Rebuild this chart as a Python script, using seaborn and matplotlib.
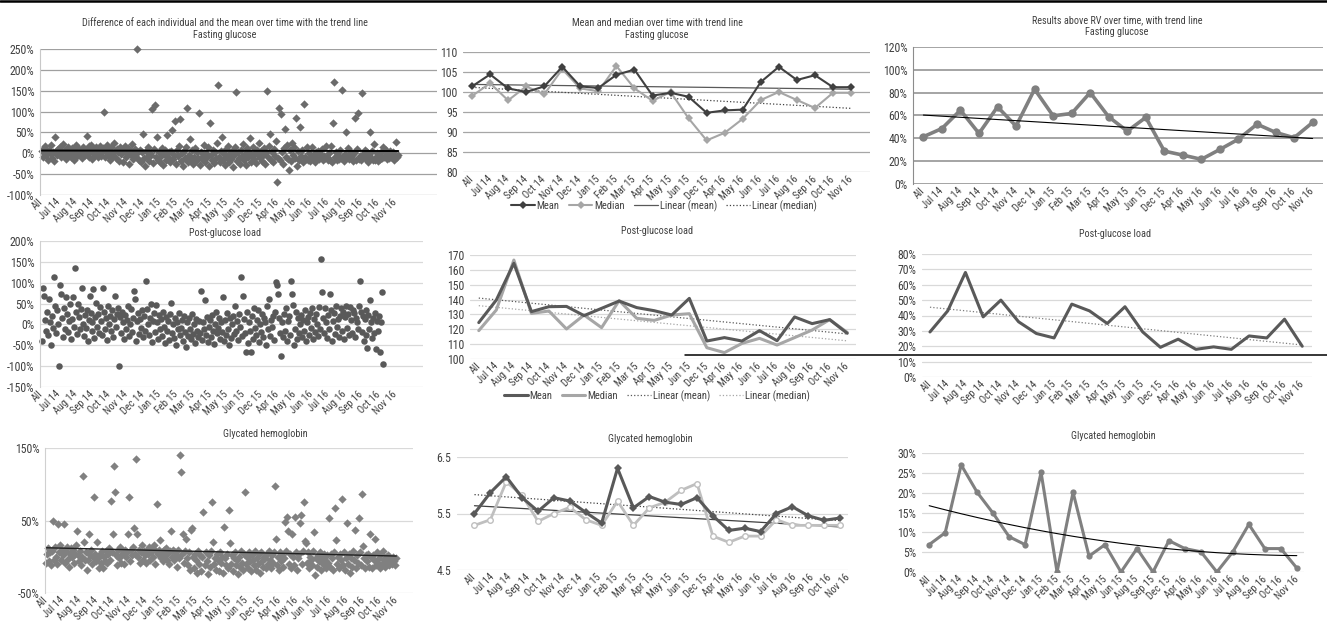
import numpy as np
import matplotlib
matplotlib.use("Agg")
import matplotlib.pyplot as plt
import seaborn as sns
from matplotlib.lines import Line2D
from matplotlib.ticker import FuncFormatter

sns.set_theme(style="white")
plt.rcParams['font.family'] = ['Roboto Condensed', 'Liberation Sans Narrow', 'Roboto', 'DejaVu Sans']

# ---------------- data ----------------
labels22 = ["All", "Jul 14", "Aug 14", "Sep 14", "Oct 14", "Nov 14", "Dec 14", "Jan 15",
            "Feb 15", "Mar 15", "Apr 15", "May 15", "Jun 15", "Dec 15", "Apr 16", "May 16",
            "Jun 16", "Jul 16", "Aug 16", "Sep 16", "Oct 16", "Nov 16"]
labels24 = ["All", "Jul 14", "Aug 14", "Sep 14", "Oct 14", "Nov 14", "Dec 14", "Jan 15",
            "Feb 15", "Mar 15", "Apr 15", "May 15", "Jun 15", "Aug 15", "Sep 15", "Dec 15",
            "Apr 16", "May 16", "Jun 16", "Jul 16", "Aug 16", "Sep 16", "Oct 16", "Nov 16"]

# Fasting glucose: difference of each individual from the mean (%)
fg_diff = [
    5, -8, 12, 18, -3, 2, -15, 8, 0, 20, -12, 4, -18, 38, 6, -5, 10, -2, 15, -10,
    3, 22, -6, 9, -14, 1, 16, -4, 7, -9, 12, 0, -16, 5, 19, -7, 2, 11, -3, 8,
    -11, 14, 4, -5, 9, 42, -2, 17, -8, 6, 21, -13, 3, 10, -4, 15, 0, -9, 7, 18,
    -6, 2, 12, 98, -10, 5, 20, -3, 8, -15, 14, 1, -7, 24, 6, -12, 10, 3, -18, 16,
    -2, 9, -20, 5, 18, -8, 0, 13, -25, 7, -5, 22, -14, 4, 11, -9, 250, 2, -17, 8,
    -22, 3, 46, -12, -30, 6, -8, 15, -18, 0, -5, 105, -24, 10, 115, -10, 38, -15, 4, -20,
    -6, 12, -28, -2, 8, -16, 44, -9, 2, -22, 5, 56, -13, -4, 78, -25, 9, -7, 18, 83,
    -18, 0, -30, 6, -11, 14, 108, -20, -3, 34, -15, 7, -26, -8, 12, -19, 2, -12, 97, -28,
    4, -14, -6, 20, -22, 1, -10, 16, -30, 72, -5, -17, 8, -24, 3, -12, 25, 163, -8, -20,
    5, 40, -15, -2, -27, 10, -9, 18, -21, 0, -13, 6, -32, -4, 14, 147, -18, 2, -11, -25,
    8, -6, 22, -16, -1, -28, 12, -10, 3, 36, -20, -7, 15, -14, 0, -24, 9, -3, 24, -12,
    6, -18, -5, 13, -26, 2, 150, -9, 18, 46, -15, 4, -22, 10, -6, 30, -70, -11, 108, -17,
    95, 3, -25, 12, 58, -8, 20, -14, -40, 7, -19, 25, -4, 14, -12, 84, -30, 5, -16, 62,
    -7, 8, -22, 117, -8, -13, 15, -15, 0, -18, -10, 14, -10, -4, -21, 2, -13, 6, -14, -2,
    -8, 10, -17, -6, -11, 17, -10, -15, 0, -16, 18, -20, 72, 170, -9, 4, -16, -5, -14, 8,
    -12, 152, -8, -18, -1, 50, -7, 12, -14, -7, 5, -10, -4, -19, 1, 84, -15, 10, 97, -13,
    -6, -16, 145, -2, -9, 8, -13, 2, -20, -4, 52, -11, 5, -16, 22, -15, -8, 0, -18, -3,
    -14, 4, -12, 15, -8, -7, 8, -14, -1, -12, 6, -10, -5, 2, -16, -10, 26, -8, -4,
]

# Fasting glucose mean / median
fg_mean = [101.4, 104.4, 100.9, 100.0, 101.4, 106.3, 101.4, 101.0, 104.3, 105.6, 99.1,
           99.8, 98.8, 94.8, 95.4, 95.6, 102.5, 106.3, 103.0, 104.2, 101.2, 101.2]
fg_median = [99.0, 102.2, 97.9, 101.4, 99.4, 105.7, 100.9, 100.2, 106.5, 100.9, 97.8,
             100.0, 93.4, 87.9, 89.8, 93.3, 98.0, 100.0, 98.0, 96.0, 99.8, 99.8]

# Fasting glucose results above RV (%)
fg_above = [41.4, 48.6, 64.7, 44.3, 67.6, 50.7, 83.0, 59.7, 61.8, 80.1, 58.8,
            46.3, 58.3, 28.8, 25.3, 21.6, 30.3, 39.3, 52.4, 45.2, 40.5, 53.9]

# Post-glucose load: difference of each individual from the mean (%)
pg_diff = [
    -40, 88, 68, 10, -15, 30, -25, 62, 5, -50, 20, -8, 113, 45, -20, 35, 0, -100, 95, 72,
    15, -30, 40, -10, 65, 25, -18, 8, 50, -35, 12, 66, -5, 136, 30, -22, 48, 18, -12, 38,
    88, 2, -28, 22, -8, 35, -40, 10, 68, 28, -15, 5, 85, -32, 18, 52, -6, 25, -20, 42,
    8, -25, 88, 30, -10, 15, -38, 45, 0, 20, -15, 35, -30, 12, 68, -5, 25, 40, -100, 18,
    -20, 30, 5, -35, 22, -12, 10, 45, -28, 2, 38, -18, 15, 80, 60, -40, 8, 28, -22, 12,
    -8, 35, -30, 20, -15, 105, 36, 0, -25, 15, 50, -42, 8, 28, -18, 46, 5, -35, 22, -10,
    12, -28, 30, -5, -45, 18, -15, 8, -38, 25, 52, -20, 2, -32, 15, -50, 5, -12, 28, -25,
    -8, 10, -40, 20, -18, -55, 5, -28, 15, -10, -35, 25, -22, 0, -45, 12, -15, -30, 8, -20,
    80, -38, 5, -12, 58, -25, 18, -42, -5, 10, -30, 22, -15, -48, 2, 30, -20, -8, 15, -35,
    5, -18, 65, -40, 10, -25, 28, -10, -50, 15, -32, 0, 20, -22, 45, -15, 8, -38, 25, -5,
    113, -28, 67, 12, -20, -65, 30, -45, 5, -15, -65, 20, -35, 40, -8, -25, 10, 35, -42, 2,
    -18, 25, -30, 15, 5, -50, 45, -12, 62, -28, 10, -5, 20, -38, 30, 102, 94, 72, 15, -20,
    -75, 5, -30, 25, -15, 40, -40, 8, 20, -25, 105, 72, 46, -50, -10, 30, -35, 15, -20, 0,
    22, -30, 10, -15, 35, -40, 5, 18, -25, 28, -8, 40, -35, 12, -18, 25, 0, -28, 42, -12,
    157, 78, 15, -20, 40, 5, -32, 22, -10, 74, 35, -40, 8, 28, -22, 45, -5, 12, -30, 20,
    40, -15, 30, -35, 18, 45, -8, 25, -25, 42, 10, -20, 35, 28, -30, 15, 5, -12, 45, 103,
    30, -18, 20, -40, 12, 35, -25, -56, 22, -10, 58, 5, -32, 15, -20, 28, -60, 8, -15, 20,
    -65, 5, 77, -95,
]

pg_mean = [124.5, 139.7, 164.4, 131.9, 135.2, 135.4, 129.2, 134.1, 139.0, 134.6, 132.5,
           129.6, 140.8, 112.1, 114.4, 112.1, 119.1, 112.3, 128.3, 123.8, 126.5, 117.3]
pg_median = [119.1, 133.0, 166.6, 130.7, 132.3, 120.2, 129.6, 121.1, 139.3, 127.4, 126.0,
             129.6, 130.5, 107.6, 104.3, 110.5, 113.9, 109.4, 114.4, 119.5, 126.5, 117.9]

pg_above = [29.3, 43.0, 68.0, 39.1, 50.0, 35.9, 28.3, 25.4, 47.4, 43.0, 34.8,
            45.7, 29.3, 19.3, 24.6, 18.0, 19.6, 18.0, 26.7, 25.4, 37.6, 20.0]

# Glycated hemoglobin: difference of each individual from the mean (%)
hb_diff = [
    -8, 4, 12, -6, 6, -12, 8, 50, -4, 14, 0, -10, 45, 6, 16, -5, 10, 2, 45, -8,
    8, 14, -3, -14, 4, 12, 0, 10, -8, 4, 16, 35, 2, -6, 8, -12, 0, 112, 21, -4,
    6, -18, -4, 32, 2, 10, -10, 0, 83, 4, -6, 21, -2, -16, 4, -8, 8, -15, 0, -6,
    8, -9, 4, 12, -4, 77, 6, 32, 125, 89, 2, -12, 10, -2, 14, -8, 4, 8, -10, 10,
    0, 6, 32, 83, -6, 10, 2, 14, 40, 4, 135, 31, 0, 10, -8, 6, 16, -4, 8, 2,
    -8, 10, 4, 14, -4, 6, 12, 0, 16, -10, 8, 73, 4, 10, 23, -2, 6, -6, 10, 2,
    12, -4, 5, -10, 8, 36, 0, 10, -5, 6, 2, -14, 10, -2, 140, 117, 4, 31, -8, 8,
    25, -2, -12, 6, -18, 37, 39, 0, -15, 4, -4, -22, 8, -10, 2, -20, 0, 62, -12, 6,
    -6, -24, 2, -14, 8, 76, 21, -10, -2, -18, 4, -4, -20, 6, -8, 0, -22, 41, -2, -12,
    4, -16, 64, 19, -10, 2, -20, -2, 6, -12, -4, -24, 0, -14, 8, -8, -18, 4, 89, -10,
    0, -15, 6, -6, -20, 2, -4, -12, 8, -18, -2, -10, 4, -22, 6, -6, -14, 0, -2, -16,
    4, -10, 8, -4, -15, 2, -8, 6, 97, 25, -12, 0, -18, 6, -6, 2, -14, -2, 48, 8,
    55, 35, -10, 4, -16, 32, 0, -12, 55, 6, -18, -2, 4, 46, 57, -10, 8, 75, 22, 19,
    -8, 6, -15, 0, -4, -12, 8, 34, -25, -2, -14, 2, -6, 6, -18, 0, -10, 4, -4, -15,
    2, -8, 54, -14, 4, -2, -18, 6, 67, 23, -10, 0, -15, 4, -4, 80, -12, 6, -18, -2,
    46, -10, 4, -23, -2, -14, 8, -4, 37, -16, 2, -8, 54, 6, -12, 87, 15, -2, -15, 2,
    -6, 4, -14, 32, 0, -16, 2, -4, 25, -12, 6, -8, -2, -15, 4, -10, 8, -4, -14, 0,
    -8, 2, -12, -2, -4, -10, 0, -6, -12, -2,
]

hb_mean = [5.50, 5.87, 6.15, 5.78, 5.54, 5.78, 5.72, 5.52, 5.33, 6.30, 5.60, 5.80,
           5.70, 5.66, 5.78, 5.46, 5.20, 5.24, 5.18, 5.50, 5.62, 5.46, 5.38, 5.42]
hb_median = [5.29, 5.39, 6.06, 5.82, 5.36, 5.50, 5.61, 5.39, 5.29, 5.72, 5.29, 5.60,
             5.70, 5.91, 6.03, 5.10, 4.99, 5.10, 5.10, 5.39, 5.29, 5.29, 5.29, 5.29]

hb_above = [6.9, 9.9, 27.0, 20.1, 14.8, 8.9, 6.9, 25.1, 0.0, 20.1, 4.0, 6.9,
            0.0, 5.9, 0.0, 7.9, 5.9, 5.1, 0.0, 5.1, 12.0, 5.9, 5.9, 1.0]

# ---------------- figure ----------------
W, H = 1327, 636
fig = plt.figure(figsize=(W / 100, H / 100), dpi=100)
fig.patch.set_facecolor("white")
TXT = "#404040"
FS_T, FS_Y, FS_X, FS_L = 7.3, 8.5, 7.5, 7.6


def add_ax(l, t, r, b):
    return fig.add_axes([l / W, 1 - b / H, (r - l) / W, (b - t) / H])


pct = FuncFormatter(lambda v, _: f"{v:.0f}%")
num0 = FuncFormatter(lambda v, _: f"{v:.0f}")
num1 = FuncFormatter(lambda v, _: f"{v:.1f}")


def style(ax, yticks, fmt, grid_color, grid_lw, labels, xpos, xlim, left_spine=None):
    ax.set_ylim(yticks[0], yticks[-1])
    ax.set_yticks(yticks)
    ax.yaxis.set_major_formatter(fmt)
    ax.set_xlim(*xlim)
    ax.set_xticks(xpos)
    ax.set_xticklabels(labels, rotation=45, ha="right", va="center",
                       rotation_mode="anchor")
    ax.grid(False)
    ax.yaxis.grid(True, color=grid_color, lw=grid_lw)
    ax.set_axisbelow(True)
    for s in ax.spines.values():
        s.set_visible(False)
    if left_spine:
        ax.spines["left"].set_visible(True)
        ax.spines["left"].set_color(left_spine)
        ax.spines["left"].set_linewidth(0.8)
    ax.tick_params(axis="y", length=0, labelsize=FS_Y, colors=TXT, pad=4)
    ax.tick_params(axis="x", length=0, labelsize=FS_X, colors=TXT, pad=4)
    ax.set_xlabel("")
    ax.set_ylabel("")


def title(x, y, s):
    fig.text(x / W, 1 - y / H, s, ha="center", va="top", fontsize=FS_T, color=TXT,
             linespacing=1.25)


def trend(x, y, deg=1):
    c = np.polyfit(x, y, deg)
    return np.polyval(c, x)


# ---- Panel 1: fasting glucose scatter ----
ax1 = add_ax(40, 49, 437, 195)
x1 = np.linspace(0, 21.2, len(fg_diff))
sns.scatterplot(x=x1, y=fg_diff, marker="D", s=18, color="#6b6b6b", linewidth=0,
                ax=ax1, clip_on=False, legend=False)
sns.lineplot(x=x1, y=trend(x1, fg_diff), color="black", lw=1.4, ax=ax1)
style(ax1, np.arange(-100, 251, 50), pct, "#a0a0a0", 0.9, labels22,
      np.arange(22), (-0.1, 23.5), left_spine="#c8c8c8")
title(225, 18, "Difference of each individual and the mean over time with the trend line\nFasting glucose")

# ---- Panel 2: fasting glucose mean/median ----
ax2 = add_ax(463, 52, 870, 172)
xc = np.arange(22)
sns.lineplot(x=xc, y=trend(xc, fg_mean), color="#595959", lw=0.9, ax=ax2)
sns.lineplot(x=xc, y=trend(xc, fg_median), color="#404040", lw=0.9, ls=":", ax=ax2)
sns.lineplot(x=xc, y=fg_median, color="#a6a6a6", lw=1.5, marker="D", markersize=4,
             markeredgewidth=0, ax=ax2)
sns.lineplot(x=xc, y=fg_mean, color="#404040", lw=1.5, marker="D", markersize=4,
             markeredgewidth=0, ax=ax2)
style(ax2, np.arange(80, 111, 5), num0, "#a6a6a6", 0.9, labels22, xc, (-0.5, 22.05))
title(657, 18, "Mean and median over time with trend line\nFasting glucose")
h2 = [Line2D([], [], color="#404040", lw=1.5, marker="D", markersize=4, markeredgewidth=0),
      Line2D([], [], color="#a6a6a6", lw=1.5, marker="D", markersize=4, markeredgewidth=0),
      Line2D([], [], color="#595959", lw=0.9),
      Line2D([], [], color="#404040", lw=0.9, ls=":")]
fig.legend(h2, ["Mean", "Median", "Linear (mean)", "Linear (median)"], loc="center",
           bbox_to_anchor=(664 / W, 1 - 206 / H), ncol=4, frameon=False, fontsize=FS_L,
           handlelength=2.2, columnspacing=0.9, handletextpad=0.2, labelcolor=TXT)

# ---- Panel 3: fasting glucose above RV ----
ax3 = add_ax(913, 47, 1323, 184)
sns.lineplot(x=xc, y=fg_above, color="#808080", lw=2.6, marker="o", markersize=6,
             markeredgewidth=0, ax=ax3)
sns.lineplot(x=xc, y=trend(xc, fg_above), color="black", lw=0.8, ax=ax3)
style(ax3, np.arange(0, 121, 20), pct, "#8c8c8c", 1.1, labels22, xc, (-0.56, 21.56),
      left_spine="#8c8c8c")
title(1117, 15, "Results above RV over time, with trend line\nFasting glucose")

# ---- Panel 4: post-glucose load scatter ----
ax4 = add_ax(40, 241, 423, 387)
x4 = np.linspace(0, 20.3, len(pg_diff))
sns.scatterplot(x=x4, y=pg_diff, marker="o", s=22, color="#595959", linewidth=0,
                ax=ax4, clip_on=False, legend=False)
style(ax4, np.arange(-150, 201, 50), pct, "#d9d9d9", 0.9, labels22,
      np.arange(22), (-0.1, 22.65), left_spine="#d0d0d0")
title(225, 228, "Post-glucose load")

# ---- Panel 5: post-glucose load mean/median ----
ax5 = add_ax(470, 255, 856, 359)
sns.lineplot(x=xc, y=trend(xc, pg_mean), color="#595959", lw=0.9, ls=":", ax=ax5)
sns.lineplot(x=xc, y=trend(xc, pg_median), color="#a6a6a6", lw=0.9, ls=":", ax=ax5)
sns.lineplot(x=xc, y=pg_median, color="#a6a6a6", lw=2.2, ax=ax5)
sns.lineplot(x=xc, y=pg_mean, color="#595959", lw=2.2, ax=ax5)
style(ax5, np.arange(100, 171, 10), num0, "#d9d9d9", 0.9, labels22, xc, (-0.5, 21.5))
title(657, 226, "Post-glucose load")
h5 = [Line2D([], [], color="#595959", lw=2.2),
      Line2D([], [], color="#a6a6a6", lw=2.2),
      Line2D([], [], color="#595959", lw=0.9, ls=":"),
      Line2D([], [], color="#a6a6a6", lw=0.9, ls=":")]
fig.legend(h5, ["Mean", "Median", "Linear (mean)", "Linear (median)"], loc="center",
           bbox_to_anchor=(657 / W, 1 - 396 / H), ncol=4, frameon=False, fontsize=FS_L,
           handlelength=2.2, columnspacing=0.9, handletextpad=0.2, labelcolor=TXT)

# ---- Panel 6: post-glucose load above RV ----
ax6 = add_ax(922, 254, 1312, 377)
sns.lineplot(x=xc, y=trend(xc, pg_above), color="#7f7f7f", lw=0.9, ls=":", ax=ax6)
sns.lineplot(x=xc, y=pg_above, color="#595959", lw=2.2, ax=ax6)
style(ax6, np.arange(0, 81, 10), pct, "#d9d9d9", 0.9, labels22, xc, (-0.45, 21.55))
title(1115, 229, "Post-glucose load")

# ---- Panel 7: glycated hemoglobin scatter ----
ax7 = add_ax(45, 448, 413, 593)
x7 = np.linspace(0, 21.0, len(hb_diff))
sns.scatterplot(x=x7, y=hb_diff, marker="D", s=18, color="#808080", linewidth=0,
                ax=ax7, clip_on=False, legend=False)
sns.lineplot(x=x7, y=trend(x7, hb_diff), color="#202020", lw=1.0, ax=ax7)
style(ax7, np.arange(-50, 151, 100), pct, "#d9d9d9", 0.9, labels22,
      np.arange(22), (-0.05, 22.0), left_spine="#d0d0d0")
title(265, 429, "Glycated hemoglobin")

# ---- Panel 8: glycated hemoglobin mean/median ----
ax8 = add_ax(457, 457, 848, 570)
x8 = np.arange(24)
sns.lineplot(x=x8, y=trend(x8, hb_mean), color="#404040", lw=0.9, ls=":", ax=ax8)
sns.lineplot(x=x8, y=trend(x8, hb_median), color="#404040", lw=0.9, ax=ax8)
sns.lineplot(x=x8, y=hb_median, color="#bfbfbf", lw=2.0, marker="o", markersize=4,
             markerfacecolor="white", markeredgecolor="#bfbfbf", markeredgewidth=1.0, ax=ax8)
sns.lineplot(x=x8, y=hb_mean, color="#595959", lw=2.2, marker="D", markersize=4.5,
             markeredgewidth=0, ax=ax8)
style(ax8, [4.5, 5.5, 6.5], num1, "#d9d9d9", 0.9, labels22,
      np.linspace(0, 23.5, 22), (-1.1, 23.5))
title(650, 434, "Glycated hemoglobin")

# ---- Panel 9: glycated hemoglobin above RV ----
ax9 = add_ax(922, 453, 1304, 572)
sns.lineplot(x=x8, y=hb_above, color="#808080", lw=2.2, marker="o", markersize=4.5,
             markeredgewidth=0, ax=ax9)
sns.lineplot(x=x8, y=trend(x8, hb_above, 2), color="black", lw=0.8, ax=ax9)
style(ax9, np.arange(0, 31, 5), pct, "#d9d9d9", 0.9, labels24, x8, (-0.45, 23.45))
title(1113, 431, "Glycated hemoglobin")

# stray rules present in the source image
fig.add_artist(Line2D([0, 1], [1 - 1 / H, 1 - 1 / H], transform=fig.transFigure,
                      color="black", lw=1.8))
fig.add_artist(Line2D([685 / W, 1], [1 - 355 / H, 1 - 355 / H], transform=fig.transFigure,
                      color="black", lw=1.1))

fig.savefig("out.png", dpi=100, facecolor="white")
